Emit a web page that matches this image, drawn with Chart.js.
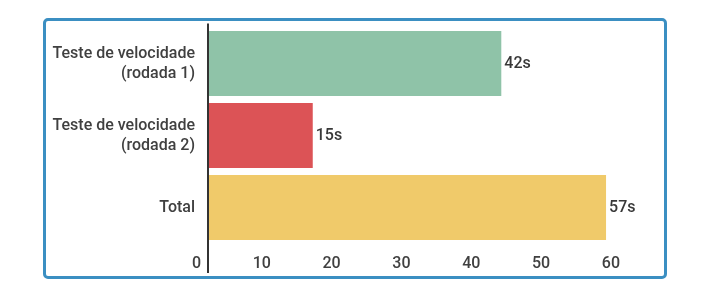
<!DOCTYPE html>
<html>
<head>
<meta charset="utf-8">
<script src="https://cdn.jsdelivr.net/npm/chart.js@4"></script>
<style>
  html, body { margin: 0; padding: 0; background: #fff; }
  .box {
    position: absolute; left: 43px; top: 18px;
    width: 624px; height: 261px; box-sizing: border-box;
    border: 3px solid #3b8fc2; border-radius: 5px; background: #fff;
  }
  .box canvas { display: block; }
</style>
</head>
<body>
<div class="box"><canvas id="chart" width="618" height="255"></canvas></div>
<script>
  // chart values
  const categories = [['Teste de velocidade', '(rodada 1)'], ['Teste de velocidade', '(rodada 2)'], 'Total'];
  const seconds = [42, 15, 57];
  const barColors = ['#8fc3a8', '#dc5356', '#f0ca6a'];
  const xTicks = [0, 10, 20, 30, 40, 50, 60];

  const textColor = '#404040';
  const font = { family: 'Roboto', size: 16, weight: '500', lineHeight: 1.25 };

  // value labels at the end of each bar ("42s")
  const valueLabels = {
    id: 'valueLabels',
    afterDatasetsDraw(chart) {
      const ctx = chart.ctx;
      const meta = chart.getDatasetMeta(0);
      ctx.save();
      ctx.font = '500 16px Roboto';
      ctx.fillStyle = '#383838';
      ctx.textAlign = 'left';
      ctx.textBaseline = 'middle';
      meta.data.forEach((bar, i) => {
        ctx.fillText(seconds[i] + 's', bar.x + 3, bar.y);
      });
      ctx.restore();
    }
  };

  // dark vertical axis line at zero
  const zeroLine = {
    id: 'zeroLine',
    afterDraw(chart) {
      const x = chart.scales.x.getPixelForValue(0);
      const ctx = chart.ctx;
      ctx.save();
      ctx.strokeStyle = '#333333';
      ctx.lineWidth = 2;
      ctx.beginPath();
      ctx.moveTo(x, chart.chartArea.top - 4);
      ctx.lineTo(x, chart.scales.x.bottom - 3);
      ctx.stroke();
      ctx.restore();
    }
  };

  new Chart(document.getElementById('chart'), {
    type: 'bar',
    data: {
      labels: categories,
      datasets: [{
        data: seconds,
        backgroundColor: barColors,
        borderWidth: 0,
        barPercentage: 0.9,
        categoryPercentage: 1
      }]
    },
    options: {
      indexAxis: 'y',
      responsive: false,
      animation: false,
      layout: { padding: { top: 6.5, right: 37, bottom: 0, left: 0 } },
      scales: {
        x: {
          min: 0,
          max: 60,
          afterBuildTicks: (scale) => { scale.ticks = xTicks.map(v => ({ value: v })); },
          afterFit: (scale) => { scale.height = 32.5; scale.paddingLeft = 0; scale.paddingRight = 0; },
          grid: { display: false, drawTicks: false },
          border: { display: false },
          ticks: { color: textColor, font, align: 'end', labelOffset: -7, padding: 10 }
        },
        y: {
          afterFit: (scale) => { scale.width = 162; scale.paddingTop = 0; scale.paddingBottom = 0; },
          grid: { display: false, drawTicks: false },
          border: { display: false },
          ticks: { color: textColor, font, padding: 13 }
        }
      },
      plugins: {
        legend: { display: false },
        tooltip: { enabled: false }
      }
    },
    plugins: [valueLabels, zeroLine]
  });
</script>
</body>
</html>
